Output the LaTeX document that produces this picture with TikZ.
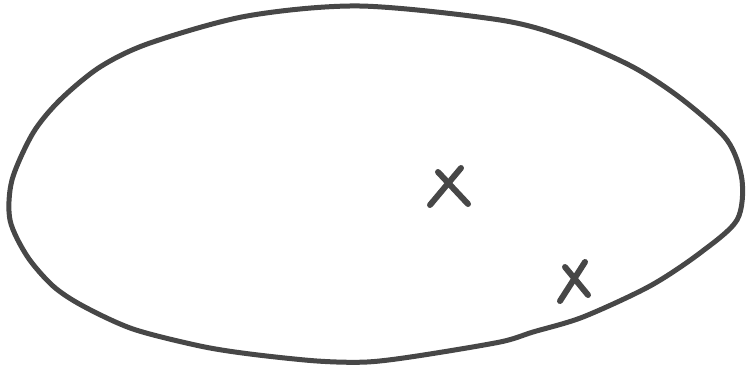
\documentclass[tikz,border=0pt]{standalone}
\begin{document}
\begin{tikzpicture}[x=1pt,y=-1pt,
  pen/.style={draw=black!72, line width=5pt, line cap=round, line join=round}]
\useasboundingbox (0,0) rectangle (747,373);
\draw[pen] plot[smooth cycle, tension=0.5] coordinates {
  (360,6) (500,20) (567,38) (633,67) (683,100) (727,140) (742,180)
  (737,220) (700,253) (650,286) (583,317) (533,332) (500,342) (417,356)
  (367,362) (317,361) (250,354) (200,346) (133,329) (83,306) (53,286)
  (27,256) (10,220) (12,180) (33,133) (60,100) (100,67) (150,43) (247,16)};
\coordinate (a1) at (430,205); \coordinate (a2) at (461,168);
\coordinate (a3) at (438,172); \coordinate (a4) at (468,204);
\coordinate (b1) at (560,301); \coordinate (b2) at (585,262);
\coordinate (b3) at (565,267); \coordinate (b4) at (588,295);
\draw[pen, line width=6pt] (a1) -- (a2);
\draw[pen, line width=6pt] (a3) -- (a4);
\draw[pen, line width=6pt] (b1) -- (b2);
\draw[pen, line width=6pt] (b3) -- (b4);
\end{tikzpicture}
\end{document}
